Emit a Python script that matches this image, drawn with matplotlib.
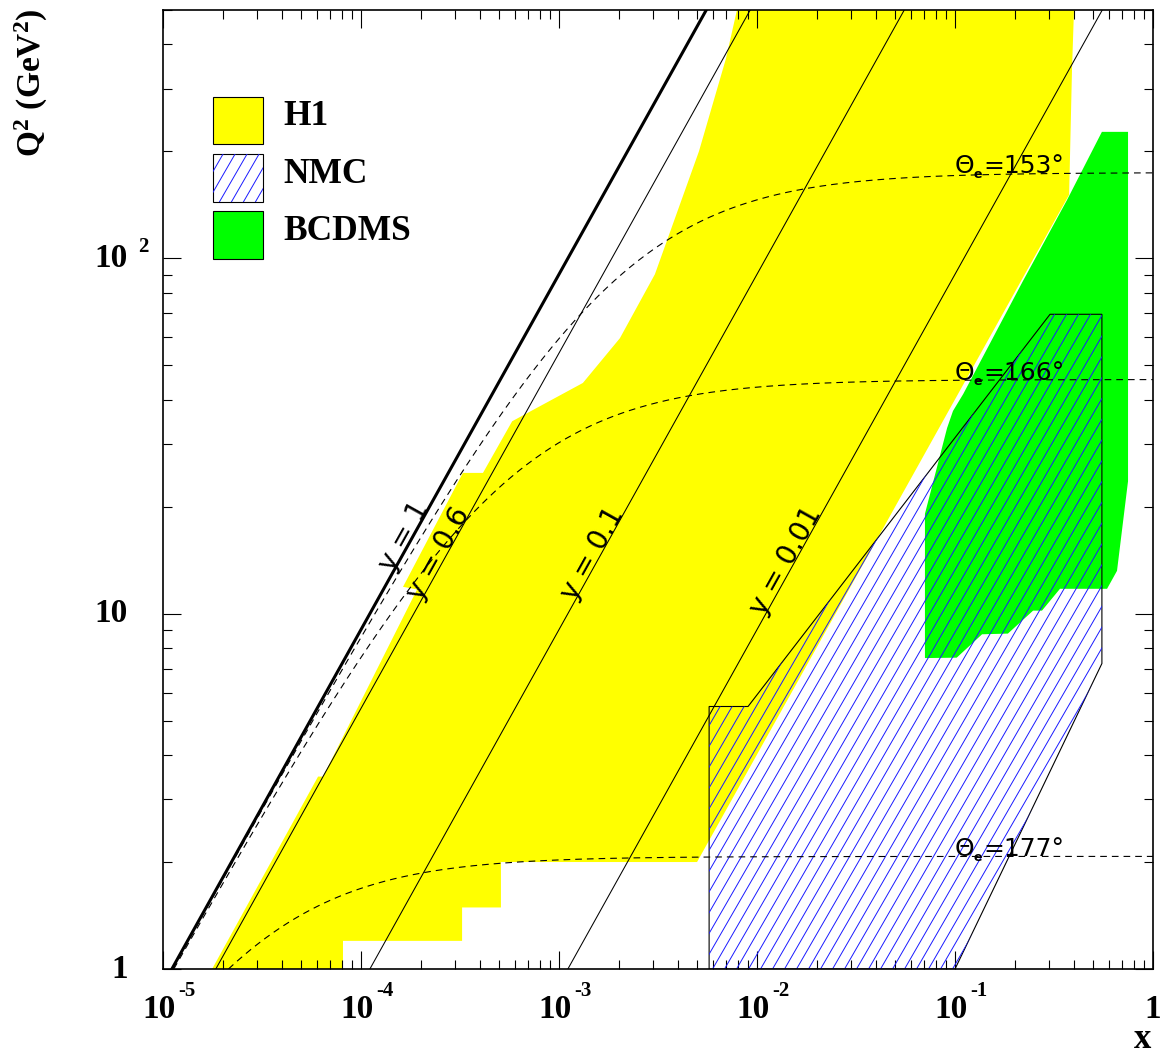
import numpy as np
import matplotlib.pyplot as plt
from matplotlib.patches import Polygon, Rectangle
from matplotlib.collections import LineCollection
from matplotlib.ticker import LogLocator, NullFormatter
from matplotlib.transforms import IdentityTransform

W, H = 1163, 1055

# HERA beam energies (GeV) -> s
E_E, E_P = 27.5, 820.0
S = 4 * E_E * E_P

# kinematic lines
y_values = [1.0, 0.6, 0.1, 0.01]
y_labels = ["y = 1", "y = 0.6", "y = 0.1", "y = 0.01"]
y_label_q2 = [13.0, 10.8, 10.8, 9.8]
theta_values = [153, 166, 177]

# H1 region (x, Q2)
h1_x = [7.92e-3, 0.399, 0.390, 0.377, 4.98e-3, 5.09e-4, 5.09e-4, 3.24e-4,
        3.24e-4, 8.11e-5, 8.11e-5, 1.77e-5, 6.07e-5, 6.43e-5, 1.92e-4, 1.63e-4,
        3.27e-4, 4.13e-4, 5.80e-4, 1.32e-3, 2.03e-3, 3.05e-3, 5.09e-3, 6.97e-3]
h1_q2 = [500, 500, 342, 151, 2.0, 2.0, 1.49, 1.49,
         1.2, 1.2, 1.0, 1.0, 3.48, 3.48, 11.7, 11.9,
         24.9, 24.9, 34.8, 44.6, 59.6, 90.2, 200, 365]

# NMC region
nmc_x = [5.73e-3, 5.73e-3, 9.01e-3, 0.302, 0.552, 0.552, 0.1]
nmc_q2 = [1.0, 5.48, 5.48, 69.6, 69.6, 7.24, 1.0]

# BCDMS region
bcdms_x = [0.552, 0.748, 0.748, 0.658, 0.586, 0.339, 0.275, 0.248, 0.185,
           0.137, 0.102, 0.0705, 0.0705, 0.0912, 0.0977, 0.110, 0.220, 0.368]
bcdms_q2 = [227, 227, 23.6, 13.2, 11.75, 11.75, 10.2, 10.2, 8.79,
            8.75, 7.52, 7.5, 19.1, 33.3, 37.2, 41.5, 86.2, 146]

legend_names = ["H1", "NMC", "BCDMS"]
YELLOW, GREEN, BLUE = "#ffff00", "#00ff00", "#1a1aff"

plt.rcParams["mathtext.fontset"] = "custom"
plt.rcParams["mathtext.rm"] = "Liberation Serif:bold"
plt.rcParams["mathtext.bf"] = "Liberation Serif:bold"
plt.rcParams["mathtext.it"] = "Liberation Serif:bold"

fig = plt.figure(figsize=(W / 100, H / 100), dpi=100)
ax = fig.add_axes([163 / W, 1 - 969 / H, 990 / W, 959 / H])
ax.set_xscale("log")
ax.set_yscale("log")
ax.set_xlim(1e-5, 1)
ax.set_ylim(1, 500)


def add_hatch(patch, parent, spacing=12, angle=60):
    t = np.tan(np.radians(angle))
    segs = [[(c, 0), (c + H / t, H)] for c in np.arange(-H / t, W + 20, spacing)]
    lc = LineCollection(segs, colors=BLUE, linewidths=0.7,
                        transform=IdentityTransform(), zorder=patch.get_zorder() + 0.1)
    lc.set_clip_path(patch)
    if parent is ax:
        ax.add_collection(lc, autolim=False)
    else:
        fig.add_artist(lc)


# regions
ax.add_patch(Polygon(np.column_stack([h1_x, h1_q2]), closed=True,
                     facecolor=YELLOW, edgecolor="none", zorder=1))
ax.add_patch(Polygon(np.column_stack([bcdms_x, bcdms_q2]), closed=True,
                     facecolor=GREEN, edgecolor="none", zorder=1.5))
nmc = Polygon(np.column_stack([nmc_x, nmc_q2]), closed=True,
              facecolor="none", edgecolor="black", lw=0.8, zorder=3)
ax.add_patch(nmc)
add_hatch(nmc, ax)

# y lines
for yv, lab, ql in zip(y_values, y_labels, y_label_q2):
    q = np.array([1.0, 500.0])
    ax.plot(q / (S * yv), q, color="black", lw=2.2 if yv == 1 else 0.75, zorder=4)
    p1 = ax.transData.transform((1.0 / (S * yv), 1.0))
    p2 = ax.transData.transform((100.0 / (S * yv), 100.0))
    angle = np.degrees(np.arctan2(p2[1] - p1[1], p2[0] - p1[0]))
    ax.text(ql / (S * yv), ql, lab, rotation=angle, rotation_mode="anchor",
            ha="left", va="baseline", fontsize=20, family="DejaVu Sans", zorder=5)

# electron angle curves
for th in theta_values:
    a = 4 * E_E ** 2 / np.tan(np.radians(th / 2)) ** 2
    x0 = a / (S * (a - 1))
    xs = np.logspace(np.log10(x0), 0, 500)
    ax.plot(xs, a * S * xs / (S * xs + a), color="black", lw=0.8,
            dashes=(6, 4.5), zorder=4)
    kw = dict(xy=(0.1, a), textcoords="offset pixels", va="baseline",
              ha="left", family="DejaVu Sans", zorder=5)
    ax.annotate("Θ", xytext=(0, 0), fontsize=18, **kw)
    ax.annotate("e", xytext=(19, -5), fontsize=9, fontweight="bold", **kw)
    ax.annotate(f"={th}°", xytext=(28, 0), fontsize=18, **kw)

# axes styling
ax.xaxis.set_minor_locator(LogLocator(base=10, subs=np.arange(2, 10), numticks=100))
ax.yaxis.set_minor_locator(LogLocator(base=10, subs=np.arange(2, 10), numticks=100))
ax.xaxis.set_minor_formatter(NullFormatter())
ax.yaxis.set_minor_formatter(NullFormatter())
ax.tick_params(which="both", direction="in", top=True, right=True,
               labelbottom=False, labelleft=False, width=0.8)
ax.tick_params(which="major", length=13)
ax.tick_params(which="minor", length=6.5)
for sp in ax.spines.values():
    sp.set_linewidth(1.2)
    sp.set_zorder(6)

lab_kw = dict(textcoords="offset pixels", fontweight="bold", family="Liberation Serif")
for e in [-5, -4, -3, -2, -1]:
    ax.annotate("10", xy=(10.0 ** e, 0), xycoords=ax.get_xaxis_transform(),
                xytext=(13, -41), ha="right", va="center", fontsize=24, **lab_kw)
    ax.annotate(f"-{-e}", xy=(10.0 ** e, 0), xycoords=ax.get_xaxis_transform(),
                xytext=(15, -22), ha="left", va="center", fontsize=15, **lab_kw)
ax.annotate("1", xy=(1.0, 0), xycoords=ax.get_xaxis_transform(),
            xytext=(0, -41), ha="center", va="center", fontsize=24, **lab_kw)

for v, t in [(1, "1"), (10, "10"), (100, "10")]:
    ax.annotate(t, xy=(0, v), xycoords=ax.get_yaxis_transform(),
                xytext=(-35, 0), ha="right", va="center", fontsize=24, **lab_kw)
ax.annotate("2", xy=(0, 100), xycoords=ax.get_yaxis_transform(),
            xytext=(-25, 11), ha="left", va="center", fontsize=15, **lab_kw)

fig.text(31 / W, 1 - 83 / H, r"$\mathbf{Q^2\ (GeV^2)}$", rotation=90,
         ha="center", va="center", fontsize=24)
fig.text(1143 / W, 1 - 1040 / H, "x", ha="center", va="center",
         fontsize=25, fontweight="bold", family="Liberation Serif")

# legend
boxes = [(97, 144), (154, 202), (211, 259)]
colors = [YELLOW, "white", GREEN]
for name, (t, b), c in zip(legend_names, boxes, colors):
    r = Rectangle((213 / W, 1 - b / H), 50 / W, (b - t) / H, transform=fig.transFigure,
                  facecolor=c, edgecolor="black", lw=0.8, zorder=5)
    fig.add_artist(r)
    if name == "NMC":
        add_hatch(r, fig)
    fig.text(283 / W, 1 - (b - 19) / H, name, ha="left", va="baseline",
             fontsize=25.5, fontweight="bold", family="Liberation Serif")

fig.savefig("out.png", dpi=100)
